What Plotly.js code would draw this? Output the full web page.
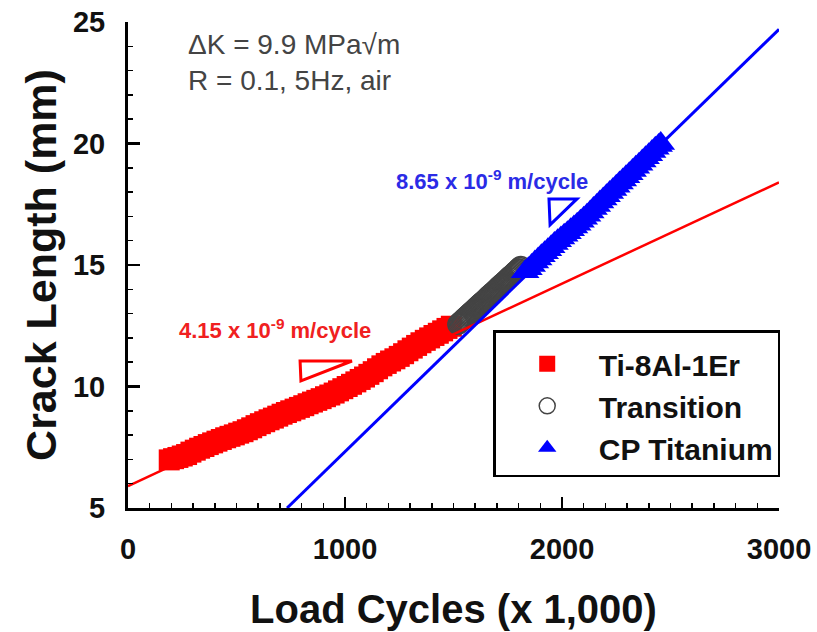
<!DOCTYPE html>
<html>
<head>
<meta charset="utf-8">
<script src="https://cdn.plot.ly/plotly-3.0.1.min.js"></script>
<style>html,body{margin:0;padding:0;background:#fff;}#chart{width:817px;height:632px;}</style>
</head>
<body>
<div id="chart"></div>
<script>
// Ti-8Al-1Er (red squares)
const tiAlX = [190,210,230,250,270,290,310,330,350,370,390,410,430,450,470,490,510,530,550,570,590,610,630,650,670,690,710,730,750,770,790,810,830,850,870,890,910,930,950,970,990,1010,1030,1050,1070,1090,1110,1130,1150,1170,1190,1210,1230,1250,1270,1290,1310,1330,1350,1370,1390,1410,1430,1450,1470,1490];
const tiAlY = [6.98,7.03,7.08,7.14,7.20,7.30,7.38,7.46,7.53,7.61,7.68,7.75,7.82,7.89,7.95,8.01,8.08,8.14,8.22,8.30,8.39,8.47,8.55,8.63,8.70,8.78,8.86,8.93,9.00,9.07,9.14,9.21,9.29,9.36,9.43,9.50,9.58,9.65,9.73,9.82,9.91,10.00,10.09,10.19,10.29,10.39,10.50,10.61,10.73,10.85,10.95,11.05,11.14,11.24,11.35,11.47,11.58,11.69,11.80,11.90,12.00,12.10,12.19,12.29,12.39,12.48];
// Transition (open circles)
const transX = [1520,1525,1530,1535,1540,1545,1550,1555,1560,1565,1570,1575,1580,1585,1590,1595,1600,1605,1610,1615,1620,1625,1630,1635,1640,1645,1650,1655,1660,1665,1670,1675,1680,1685,1690,1695,1700,1705,1710,1715,1720,1725,1730,1735,1740,1745,1750,1755,1760,1765,1770,1775,1780,1785,1790,1795,1800,1805,1810];
const transY = [12.56,12.60,12.64,12.68,12.72,12.76,12.81,12.85,12.89,12.93,12.97,13.01,13.05,13.09,13.13,13.17,13.22,13.26,13.30,13.34,13.38,13.42,13.46,13.50,13.54,13.58,13.62,13.67,13.71,13.75,13.79,13.83,13.87,13.91,13.95,13.99,14.03,14.08,14.12,14.16,14.20,14.24,14.28,14.32,14.36,14.40,14.44,14.49,14.53,14.57,14.61,14.65,14.69,14.73,14.77,14.81,14.85,14.90,14.94];
// CP Titanium (blue triangles)
const cpX = [1830,1845,1860,1875,1890,1905,1920,1935,1950,1965,1980,1995,2010,2025,2040,2055,2070,2085,2100,2115,2130,2145,2160,2175,2190,2205,2220,2235,2250,2265,2280,2295,2310,2325,2340,2355,2370,2385,2400,2415,2430,2445,2455];
const cpY = [14.72,14.85,14.98,15.12,15.25,15.38,15.50,15.63,15.75,15.88,16.00,16.11,16.22,16.33,16.45,16.56,16.68,16.80,16.92,17.05,17.18,17.32,17.45,17.59,17.72,17.85,17.98,18.11,18.24,18.37,18.50,18.63,18.76,18.89,19.02,19.15,19.28,19.41,19.54,19.67,19.80,19.92,20.00];
// Linear fits
const fitRedX = [0, 3000];
const fitRedY = [5.9, 18.4];
const fitBlueX = [733, 3000];
const fitBlueY = [5.0, 24.7];

const xTicks = [0, 1000, 2000, 3000];
const yTicks = [5, 10, 15, 20, 25];

const FONT = 'Arial, "Liberation Sans", Helvetica, sans-serif';

const traces = [
  {x: tiAlX, y: tiAlY, name: 'Ti-8Al-1Er', type: 'scatter', mode: 'markers',
   marker: {symbol: 'square', size: 21, color: '#ff0000', line: {width: 0}}},
  {x: transX, y: transY, name: 'Transition', type: 'scatter', mode: 'markers',
   marker: {symbol: 'circle-open', size: 20, color: '#444444', line: {width: 1.5, color: '#444444'}}},
  {x: cpX, y: cpY, name: 'CP Titanium', type: 'scatter', mode: 'markers',
   marker: {symbol: 'triangle-up', size: 25, color: '#0000ff', line: {width: 0}}},
  {x: fitRedX, y: fitRedY, type: 'scatter', mode: 'lines', showlegend: false,
   line: {color: '#ff0000', width: 2.5}},
  {x: fitBlueX, y: fitBlueY, type: 'scatter', mode: 'lines', showlegend: false,
   line: {color: '#0000ff', width: 3}}
];

const layout = {
  width: 817, height: 632,
  margin: {l: 128, r: 38, t: 22, b: 124},
  paper_bgcolor: '#fff', plot_bgcolor: '#fff',
  showlegend: true,
  font: {family: FONT, color: '#000'},
  xaxis: {
    range: [0, 3000], tickvals: xTicks, ticktext: xTicks.map(String),
    showgrid: false, zeroline: false, showline: true, linecolor: '#000', linewidth: 3,
    ticks: 'inside', ticklen: 11, tickwidth: 2.5, tickcolor: '#000',
    minor: {dtick: 100, ticks: 'inside', ticklen: 5, tickwidth: 1.5, tickcolor: '#000', showgrid: false},
    tickfont: {family: FONT, size: 29, weight: 'bold', color: '#111'},
    ticklabelstandoff: 13,
    title: {text: 'Load Cycles (x 1,000)', font: {family: FONT, size: 40, weight: 'bold', color: '#111'}, standoff: 32},
    fixedrange: true
  },
  yaxis: {
    range: [5, 25], tickvals: yTicks, ticktext: yTicks.map(String),
    showgrid: false, zeroline: false, showline: true, linecolor: '#000', linewidth: 3,
    ticks: 'inside', ticklen: 12, tickwidth: 2.5, tickcolor: '#000',
    minor: {dtick: 1, ticks: 'inside', ticklen: 5, tickwidth: 1.5, tickcolor: '#000', showgrid: false},
    tickfont: {family: FONT, size: 29, weight: 'bold', color: '#111'},
    ticklabelstandoff: 14,
    title: {text: 'Crack Length (mm)', font: {family: FONT, size: 43, weight: 'bold', color: '#111'}, standoff: 3},
    fixedrange: true
  },
  legend: {
    x: 0.561, y: 0.366, xanchor: 'left', yanchor: 'top',
    bgcolor: '#fff', bordercolor: '#000', borderwidth: 2.5,
    font: {family: FONT, size: 30, weight: 'bold', color: '#111'},
    title: {text: ' ', font: {size: 4}},
    itemwidth: 93, tracegroupgap: 0
  },
  shapes: [
    {type: 'path', xref: 'x', yref: 'y', path: 'M793,11.05 L1032,11.05 L797,10.23 Z',
     line: {color: '#ff0000', width: 3}, fillcolor: 'rgba(0,0,0,0)'},
    {type: 'path', xref: 'x', yref: 'y', path: 'M1940,17.72 L2069,17.72 L1945,16.65 Z',
     line: {color: '#0000ff', width: 3}, fillcolor: 'rgba(0,0,0,0)'}
  ],
  annotations: [
    {xref: 'x', yref: 'y', x: 265, y: 23.35, xanchor: 'left', yanchor: 'middle', align: 'left', showarrow: false,
     text: '\u0394K = 9.9 MPa\u221Am<br>R = 0.1, 5Hz, air',
     font: {family: FONT, size: 28, color: '#444'}},
    {xref: 'x', yref: 'y', x: 1228, y: 18.5, xanchor: 'left', yanchor: 'middle', showarrow: false,
     text: '8.65 x 10<sup>-9</sup> m/cycle',
     font: {family: FONT, size: 22, weight: 'bold', color: '#2b2be6'}},
    {xref: 'x', yref: 'y', x: 224, y: 12.35, xanchor: 'left', yanchor: 'middle', showarrow: false,
     text: '4.15 x 10<sup>-9</sup> m/cycle',
     font: {family: FONT, size: 22, weight: 'bold', color: '#f02020'}}
  ]
};

Plotly.newPlot('chart', traces, layout, {staticPlot: true, displayModeBar: false});
</script>
</body>
</html>
